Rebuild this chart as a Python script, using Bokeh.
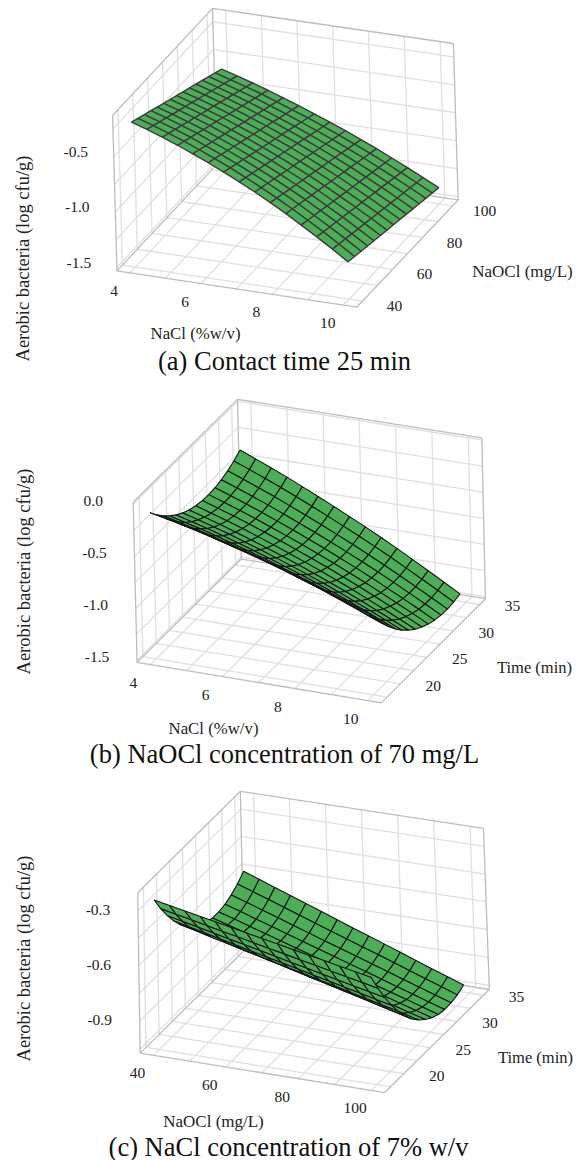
import numpy as np
from bokeh.plotting import figure
from bokeh.models import Range1d
from bokeh.core.properties import value
from bokeh.embed import file_html
from bokeh.resources import INLINE

NACL_NODES = [4, 4.43, 4.86, 5.29, 5.71, 6.14, 6.57, 7, 7.43, 7.86, 8.29, 8.71, 9.14, 9.57, 10]
NAOCL_NODES = [40, 44.3, 48.6, 52.9, 57.1, 61.4, 65.7, 70, 74.3, 78.6, 82.9, 87.1, 91.4, 95.7, 100]
TIME_NODES = [17, 18.2, 19.4, 20.6, 21.8, 23, 24.2, 25.45, 26.7, 27.9, 29.1, 30.3, 31.5, 32.7, 33.9]

NACL_GRID = [4, 5, 6, 7, 8, 9, 10]
NAOCL_GRID = [40, 50, 60, 70, 80, 90, 100]
TIME_GRID = [17.5, 20, 22.5, 25, 27.5, 30, 32.5, 35]

NACL_TICKS = [4, 6, 8, 10]
NAOCL_TICKS = [40, 60, 80, 100]
TIME_TICKS = [20, 25, 30, 35]

Z_GRID_A = [-1.5, -1.25, -1.0, -0.75, -0.5, -0.25]
Z_GRID_B = [-1.5, -1.25, -1.0, -0.75, -0.5, -0.25, 0.0]
Z_GRID_C = [-1.05, -0.9, -0.75, -0.6, -0.45, -0.3]
Z_TICKS_A = [-1.5, -1.0, -0.5]
Z_TICKS_B = [-1.5, -1.0, -0.5, 0.0]
Z_TICKS_C = [-0.9, -0.6, -0.3]

# rows: NaOCl, columns: NaCl
Z_A = [
    [-.225, -.270, -.320, -.372, -.429, -.489, -.553, -.620, -.691, -.766, -.844, -.927, -1.012, -1.102, -1.195],
    [-.252, -.297, -.346, -.398, -.454, -.514, -.577, -.643, -.713, -.787, -.864, -.945, -1.029, -1.117, -1.209],
    [-.279, -.324, -.373, -.424, -.480, -.538, -.601, -.666, -.735, -.807, -.883, -.963, -1.046, -1.132, -1.222],
    [-.306, -.351, -.399, -.450, -.505, -.563, -.624, -.689, -.757, -.828, -.903, -.981, -1.062, -1.148, -1.236],
    [-.333, -.378, -.426, -.476, -.530, -.587, -.648, -.712, -.779, -.849, -.922, -.999, -1.079, -1.163, -1.249],
    [-.361, -.405, -.452, -.502, -.556, -.612, -.672, -.735, -.801, -.870, -.942, -1.018, -1.096, -1.178, -1.263],
    [-.388, -.431, -.478, -.527, -.581, -.637, -.696, -.757, -.822, -.890, -.961, -1.036, -1.113, -1.193, -1.277],
    [-.415, -.458, -.505, -.553, -.606, -.661, -.720, -.780, -.844, -.911, -.981, -1.054, -1.130, -1.208, -1.290],
    [-.442, -.485, -.531, -.579, -.631, -.686, -.743, -.803, -.866, -.932, -1.000, -1.072, -1.146, -1.224, -1.304],
    [-.469, -.512, -.558, -.605, -.657, -.710, -.767, -.826, -.888, -.952, -1.020, -1.090, -1.163, -1.239, -1.317],
    [-.496, -.539, -.584, -.631, -.682, -.735, -.791, -.849, -.910, -.973, -1.039, -1.108, -1.180, -1.254, -1.331],
    [-.523, -.566, -.610, -.657, -.707, -.760, -.815, -.872, -.932, -.994, -1.059, -1.126, -1.197, -1.269, -1.345],
    [-.550, -.593, -.637, -.683, -.733, -.784, -.839, -.895, -.954, -1.014, -1.078, -1.144, -1.214, -1.284, -1.358],
    [-.577, -.620, -.663, -.709, -.758, -.809, -.862, -.918, -.976, -1.035, -1.098, -1.162, -1.230, -1.300, -1.372],
    [-.605, -.646, -.690, -.735, -.783, -.833, -.886, -.940, -.997, -1.056, -1.117, -1.181, -1.247, -1.315, -1.385],
]
# rows: Time, columns: NaCl
Z_B = [
    [-.090, -.122, -.156, -.191, -.229, -.269, -.311, -.355, -.401, -.449, -.499, -.551, -.606, -.662, -.720],
    [-.170, -.204, -.240, -.278, -.318, -.361, -.405, -.451, -.499, -.550, -.602, -.656, -.713, -.772, -.832],
    [-.241, -.277, -.316, -.356, -.398, -.443, -.489, -.538, -.588, -.641, -.695, -.752, -.811, -.872, -.934],
    [-.302, -.341, -.381, -.423, -.468, -.515, -.563, -.614, -.667, -.721, -.778, -.837, -.898, -.961, -1.026],
    [-.353, -.394, -.436, -.481, -.528, -.577, -.628, -.681, -.735, -.792, -.851, -.912, -.976, -1.041, -1.108],
    [-.394, -.437, -.482, -.528, -.578, -.629, -.682, -.737, -.794, -.853, -.914, -.978, -1.044, -1.111, -1.180],
    [-.427, -.472, -.519, -.568, -.619, -.672, -.727, -.785, -.844, -.905, -.968, -1.033, -1.102, -1.171, -1.242],
    [-.449, -.496, -.546, -.596, -.650, -.705, -.763, -.822, -.883, -.947, -1.012, -1.080, -1.150, -1.222, -1.295],
    [-.462, -.512, -.563, -.616, -.671, -.729, -.788, -.850, -.913, -.979, -1.046, -1.116, -1.188, -1.262, -1.337],
    [-.465, -.517, -.570, -.625, -.683, -.742, -.804, -.867, -.933, -1.001, -1.070, -1.142, -1.216, -1.292, -1.370],
    [-.459, -.513, -.568, -.625, -.685, -.747, -.810, -.876, -.944, -1.013, -1.085, -1.159, -1.235, -1.313, -1.393],
    [-.443, -.499, -.556, -.615, -.677, -.741, -.806, -.874, -.944, -1.015, -1.089, -1.165, -1.243, -1.323, -1.405],
    [-.417, -.475, -.534, -.595, -.659, -.725, -.793, -.863, -.934, -1.008, -1.084, -1.162, -1.242, -1.324, -1.408],
    [-.382, -.442, -.503, -.566, -.632, -.700, -.770, -.842, -.915, -.991, -1.069, -1.149, -1.231, -1.315, -1.401],
    [-.337, -.399, -.462, -.527, -.595, -.665, -.737, -.811, -.886, -.964, -1.044, -1.126, -1.210, -1.296, -1.384],
]
# rows: Time, columns: NaOCl
Z_C = [
    [-.247, -.264, -.281, -.298, -.314, -.331, -.348, -.365, -.382, -.399, -.416, -.432, -.449, -.466, -.483],
    [-.328, -.346, -.363, -.381, -.399, -.416, -.434, -.452, -.469, -.487, -.504, -.522, -.540, -.557, -.575],
    [-.399, -.418, -.436, -.455, -.473, -.492, -.510, -.529, -.548, -.566, -.585, -.603, -.622, -.640, -.659],
    [-.462, -.481, -.501, -.520, -.540, -.559, -.579, -.598, -.617, -.637, -.656, -.676, -.695, -.715, -.734],
    [-.516, -.536, -.557, -.577, -.597, -.617, -.638, -.658, -.678, -.699, -.719, -.739, -.759, -.780, -.800],
    [-.561, -.582, -.603, -.625, -.646, -.667, -.688, -.709, -.731, -.752, -.773, -.794, -.816, -.837, -.858],
    [-.597, -.619, -.641, -.664, -.686, -.708, -.730, -.753, -.775, -.797, -.819, -.841, -.864, -.886, -.908],
    [-.625, -.648, -.671, -.694, -.718, -.741, -.764, -.787, -.810, -.833, -.856, -.880, -.903, -.926, -.949],
    [-.643, -.667, -.691, -.715, -.740, -.764, -.788, -.812, -.836, -.860, -.884, -.908, -.933, -.957, -.981],
    [-.652, -.677, -.702, -.728, -.753, -.778, -.803, -.828, -.854, -.879, -.904, -.929, -.954, -.980, -1.005],
    [-.653, -.679, -.706, -.732, -.758, -.784, -.811, -.837, -.863, -.890, -.916, -.942, -.968, -.995, -1.021],
    [-.645, -.672, -.700, -.727, -.754, -.782, -.809, -.836, -.864, -.891, -.919, -.946, -.973, -1.001, -1.028],
    [-.628, -.656, -.685, -.713, -.742, -.770, -.799, -.827, -.855, -.884, -.912, -.941, -.969, -.998, -1.026],
    [-.602, -.632, -.661, -.691, -.720, -.750, -.780, -.809, -.839, -.868, -.898, -.928, -.957, -.987, -1.017],
    [-.567, -.598, -.629, -.659, -.690, -.721, -.752, -.783, -.813, -.844, -.875, -.906, -.937, -.967, -.998],
]

SERIF = value("Liberation Serif")
Y_TITLE = "Aerobic bacteria (log cfu/g)"

PANELS = [
    dict(corners=dict(FLB=(117, 269), FRB=(357, 307), BRB=(458, 199), BLB=(215, 165), BLT=(214, 7), BRT=(452, 43), FLT=(111, 116)),
         xr=(3.63, 10.37), yr=(36.3, 103.7), zr=(-1.53, -0.13),
         xn=NACL_NODES, yn=NAOCL_NODES, z=Z_A,
         xg=NACL_GRID, yg=NAOCL_GRID, zg=Z_GRID_A,
         xt=NACL_TICKS, yt=NAOCL_TICKS, zt=Z_TICKS_A,
         xo=(-16, 18), yo=(32, 5), zo=(-38, -5),
         line="#3c3c3c", lw=1.4,
         xlabel=("NaCl (%w/v)", 195, 333, "16.8px"), ylabel=("NaOCl (mg/L)", 522, 271, "17px"),
         ztitle=(22, 258), title=("(a) Contact time 25 min", 284, 360)),
    dict(corners=dict(FLB=(137, 662), FRB=(381, 702), BRB=(485, 599), BLB=(240, 558), BLT=(238, 399), BRT=(481, 437), FLT=(132, 502)),
         xr=(3.63, 10.37), yr=(16.4, 36.1), zr=(-1.52, 0.02),
         xn=NACL_NODES, yn=TIME_NODES, z=Z_B,
         xg=NACL_GRID, yg=TIME_GRID, zg=Z_GRID_B,
         xt=NACL_TICKS, yt=TIME_TICKS, zt=Z_TICKS_B,
         xo=(-17, 18), yo=(33, 2), zo=(-40, -3),
         line="#141414", lw=1.1,
         xlabel=("NaCl (%w/v)", 213, 728, "16.8px"), ylabel=("Time (min)", 534, 667, "16.5px"),
         ztitle=(23, 571), title=("(b) NaOCl concentration of 70 mg/L", 284, 753)),
    dict(corners=dict(FLB=(140, 1053), FRB=(384, 1092), BRB=(489, 989), BLB=(243, 950), BLT=(240, 791), BRT=(483, 828), FLT=(137, 892)),
         xr=(36.3, 103.7), yr=(16.4, 36.1), zr=(-1.072, -0.202),
         xn=NAOCL_NODES, yn=TIME_NODES, z=Z_C,
         xg=NAOCL_GRID, yg=TIME_GRID, zg=Z_GRID_C,
         xt=NAOCL_TICKS, yt=TIME_TICKS, zt=Z_TICKS_C,
         xo=(-16, 18), yo=(33, 2), zo=(-40, -1),
         line="#141414", lw=1.1,
         xlabel=("NaOCl (mg/L)", 213, 1121, "17px"), ylabel=("Time (min)", 535, 1057, "16.5px"),
         ztitle=(23, 958), title=("(c) NaCl concentration of 7% w/v", 288, 1146)),
]

UNIT = dict(FLB=(0, 0, 0), FRB=(1, 0, 0), BRB=(1, 1, 0), BLB=(0, 1, 0), BLT=(0, 1, 1), BRT=(1, 1, 1), FLT=(0, 0, 1))


def fit_camera(corners):
    rows, rhs = [], []
    for key, (u, v) in corners.items():
        X, Y, Z = UNIT[key]
        rows.append([X, Y, Z, 1, 0, 0, 0, 0, -u * X, -u * Y, -u * Z]); rhs.append(u)
        rows.append([0, 0, 0, 0, X, Y, Z, 1, -v * X, -v * Y, -v * Z]); rhs.append(v)
    sol = np.linalg.lstsq(np.array(rows, float), np.array(rhs, float), rcond=None)[0]
    return np.append(sol, 1.0).reshape(3, 4)


def project(P, X, Y, Z):
    X, Y, Z = np.asarray(X, float), np.asarray(Y, float), np.asarray(Z, float)
    w = P[2, 0] * X + P[2, 1] * Y + P[2, 2] * Z + P[2, 3]
    return ((P[0, 0] * X + P[0, 1] * Y + P[0, 2] * Z + P[0, 3]) / w,
            (P[1, 0] * X + P[1, 1] * Y + P[1, 2] * Z + P[1, 3]) / w)


p = figure(width=584, height=1160, x_range=Range1d(0, 584), y_range=Range1d(1160, 0),
           output_backend="svg", toolbar_location=None, min_border=0)
p.axis.visible = False
p.grid.visible = False
p.outline_line_color = None

for cfg in PANELS:
    P = fit_camera(cfg["corners"])
    nx = lambda v: (np.asarray(v, float) - cfg["xr"][0]) / (cfg["xr"][1] - cfg["xr"][0])
    ny = lambda v: (np.asarray(v, float) - cfg["yr"][0]) / (cfg["yr"][1] - cfg["yr"][0])
    nz = lambda v: (np.asarray(v, float) - cfg["zr"][0]) / (cfg["zr"][1] - cfg["zr"][0])

    segs = []
    for g in nx(cfg["xg"]):
        segs.append(((g, 0, 0), (g, 1, 0)))   # floor
        segs.append(((g, 1, 0), (g, 1, 1)))   # back wall
    for g in ny(cfg["yg"]):
        segs.append(((0, g, 0), (1, g, 0)))   # floor
        segs.append(((0, g, 0), (0, g, 1)))   # left wall
    for g in nz(cfg["zg"]):
        segs.append(((0, 0, g), (0, 1, g)))   # left wall
        segs.append(((0, 1, g), (1, 1, g)))   # back wall
    xs, ys = [], []
    for a, b in segs:
        u, v = project(P, [a[0], b[0]], [a[1], b[1]], [a[2], b[2]])
        xs.append(list(u)); ys.append(list(v))
    p.multi_line(xs, ys, line_color="#e0e0e0", line_width=1.3)

    edges = [("FLB", "FRB"), ("FRB", "BRB"), ("FLB", "BLB"), ("BLB", "BRB"), ("FLB", "FLT"), ("BLB", "BLT"),
             ("BRB", "BRT"), ("FLT", "BLT"), ("BLT", "BRT")]
    xs, ys = [], []
    for a, b in edges:
        ca, cb = UNIT[a], UNIT[b]
        u, v = project(P, [ca[0], cb[0]], [ca[1], cb[1]], [ca[2], cb[2]])
        xs.append(list(u)); ys.append(list(v))
    p.multi_line(xs, ys, line_color="#bdbdbd", line_width=1.3)

    # surface, far cells first
    X = nx(cfg["xn"]); Y = ny(cfg["yn"]); Z = nz(cfg["z"])
    cells = []
    for j in range(len(Y) - 1):
        for i in range(len(X) - 1):
            cx = [X[i], X[i + 1], X[i + 1], X[i]]
            cy = [Y[j], Y[j], Y[j + 1], Y[j + 1]]
            cz = [Z[j, i], Z[j, i + 1], Z[j + 1, i + 1], Z[j + 1, i]]
            far = np.mean(cy) - np.mean(cx) - 0.6 * np.mean(cz)
            cells.append((far, cx, cy, cz))
    cells.sort(key=lambda c: -c[0])
    xs, ys = [], []
    for _, cx, cy, cz in cells:
        u, v = project(P, cx, cy, cz)
        xs.append(list(u)); ys.append(list(v))
    p.patches(xs, ys, fill_color="#4caf58", fill_alpha=1.0, line_color=cfg["line"], line_width=cfg["lw"])

    # tick labels sit at a fixed pixel distance from the axis edges
    def labels(px, py, texts, off):
        p.text(list(px), list(py), text=texts, x_offset=off[0], y_offset=off[1], text_font=SERIF,
               text_font_size="15.5px", text_color="#222222", text_align="center", text_baseline="middle")

    u, v = project(P, nx(cfg["xt"]), np.zeros(len(cfg["xt"])), np.zeros(len(cfg["xt"])))
    labels(u, v, [str(t) for t in cfg["xt"]], cfg["xo"])
    u, v = project(P, np.ones(len(cfg["yt"])), ny(cfg["yt"]), np.zeros(len(cfg["yt"])))
    labels(u, v, [str(t) for t in cfg["yt"]], cfg["yo"])
    u, v = project(P, np.zeros(len(cfg["zt"])), np.zeros(len(cfg["zt"])), nz(cfg["zt"]))
    labels(u, v, [f"{t:.1f}" for t in cfg["zt"]], cfg["zo"])

    for key in ("xlabel", "ylabel"):
        txt, lx, ly, fs = cfg[key]
        p.text([lx], [ly], text=[txt], text_font=SERIF, text_font_size=fs, text_color="#222222",
               text_align="center", text_baseline="middle")
    p.text([cfg["ztitle"][0]], [cfg["ztitle"][1]], text=[Y_TITLE], angle=np.pi / 2, text_font=SERIF,
           text_font_size="18.5px", text_color="#222222", text_align="center", text_baseline="middle")
    txt, lx, ly = cfg["title"]
    p.text([lx], [ly], text=[txt], text_font=SERIF, text_font_size="26.5px", text_color="#111111",
           text_align="center", text_baseline="middle")

open("out.html", "w").write(file_html(p, INLINE))
